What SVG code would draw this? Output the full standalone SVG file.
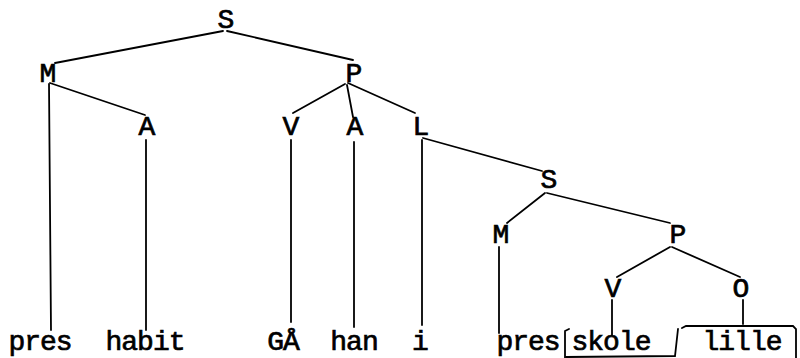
<svg xmlns="http://www.w3.org/2000/svg" width="800" height="358" viewBox="0 0 800 358">
<style>
text{font-family:"Liberation Mono","DejaVu Sans Mono",monospace;font-size:28px;letter-spacing:-1px;fill:#000;stroke:#000;stroke-width:0.7px;text-anchor:middle}
.lbl{font-size:28px;letter-spacing:0}
#connectors line,#connectors polyline{stroke:#000;stroke-width:1.8;fill:none;stroke-linecap:round}
</style>
<rect width="800" height="358" fill="#fff"/>
<g id="connectors">
<line x1="223" y1="31" x2="55" y2="63"/>
<line x1="227" y1="31" x2="353" y2="60"/>
<line x1="49" y1="84" x2="51" y2="330"/>
<line x1="50" y1="83" x2="145" y2="115"/>
<line x1="146" y1="140" x2="146" y2="330"/>
<line x1="345" y1="84" x2="293" y2="113"/>
<line x1="347" y1="85" x2="353" y2="117"/>
<line x1="348" y1="83" x2="415" y2="113"/>
<line x1="291" y1="140" x2="291" y2="322"/>
<line x1="354" y1="142" x2="354" y2="327"/>
<line x1="422" y1="140" x2="422" y2="325"/>
<line x1="423" y1="138" x2="542" y2="171"/>
<line x1="545" y1="193" x2="507" y2="223"/>
<line x1="547" y1="193" x2="670" y2="223"/>
<line x1="499" y1="247" x2="499" y2="333"/>
<line x1="670" y1="247" x2="617" y2="277"/>
<line x1="672" y1="247" x2="740" y2="277"/>
<line x1="612" y1="300" x2="612" y2="335"/>
<line x1="743" y1="300" x2="743" y2="324"/>
<polyline points="569,329 565,331 565,358"/>
<polyline points="566,357 675,356 678,329"/>
<polyline points="682,328 686,326 793,326 796,329 796,358"/>
</g>
<g id="n-S1"><text class="lbl" x="226" y="28">S</text></g>
<g id="n-M1"><text class="lbl" x="48" y="82">M</text></g>
<g id="n-P1"><text class="lbl" x="354" y="82">P</text></g>
<g id="n-A1"><text class="lbl" x="147" y="135">A</text></g>
<g id="n-V1"><text class="lbl" x="291" y="135">V</text></g>
<g id="n-A2"><text class="lbl" x="355" y="135">A</text></g>
<g id="n-L"><text class="lbl" x="421" y="135">L</text></g>
<g id="n-S2"><text class="lbl" x="549" y="188">S</text></g>
<g id="n-M2"><text class="lbl" x="501" y="243">M</text></g>
<g id="n-P2"><text class="lbl" x="678" y="243">P</text></g>
<g id="n-V2"><text class="lbl" x="613" y="297">V</text></g>
<g id="n-O"><text class="lbl" x="741" y="297">O</text></g>
<g id="w-pres1"><text x="40" y="350">pres</text></g>
<g id="w-habit"><text x="145" y="350">habit</text></g>
<g id="w-GA"><text x="283" y="350">GÅ</text></g>
<g id="w-han"><text x="354" y="350">han</text></g>
<g id="w-i"><text x="420" y="350">i</text></g>
<g id="w-pres2"><text x="528" y="350">pres</text></g>
<g id="w-skole"><text x="611" y="350">skole</text></g>
<g id="w-lille"><text x="742" y="350">lille</text></g>
</svg>
